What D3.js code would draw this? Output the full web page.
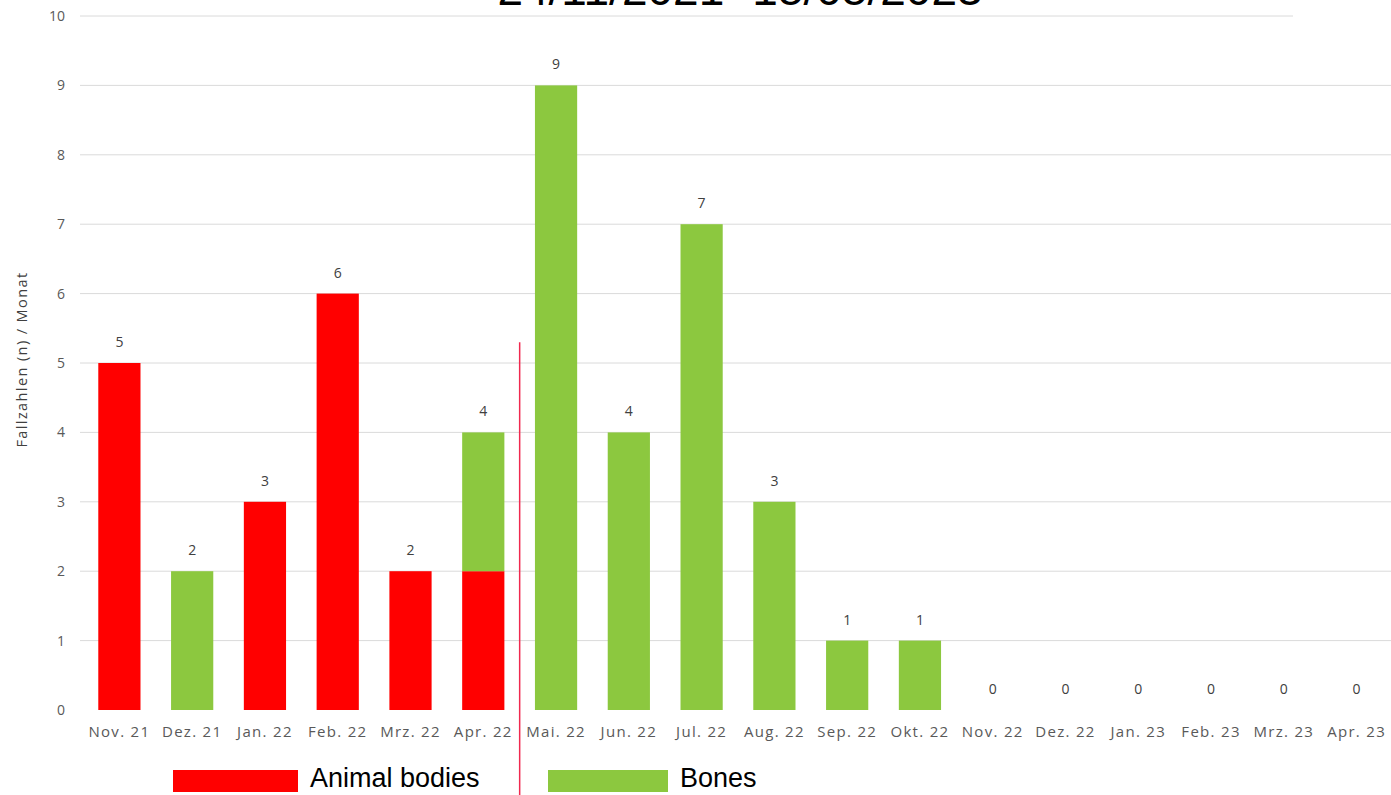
<!DOCTYPE html>
<html>
<head>
<meta charset="utf-8">
<script src="https://cdn.jsdelivr.net/npm/d3@7"></script>
<style>
  body { margin: 0; background: #fff; }
  svg { display: block; }
  .tick text { fill: #595959; }
</style>
</head>
<body>
<div id="chart"></div>
<script>
var months = ["Nov. 21", "Dez. 21", "Jan. 22", "Feb. 22", "Mrz. 22", "Apr. 22", "Mai. 22", "Jun. 22",
  "Jul. 22", "Aug. 22", "Sep. 22", "Okt. 22", "Nov. 22", "Dez. 22", "Jan. 23", "Feb. 23", "Mrz. 23", "Apr. 23"];
var animalBodies = [5, 0, 3, 6, 2, 2, 0, 0, 0, 0, 0, 0, 0, 0, 0, 0, 0, 0];
var bones =        [0, 2, 0, 0, 0, 2, 9, 4, 7, 3, 1, 1, 0, 0, 0, 0, 0, 0];
var yTicks = [0, 1, 2, 3, 4, 5, 6, 7, 8, 9, 10];
var title = "24/11/2021- 15/05/2023";
var seriesNames = ["Animal bodies", "Bones"];
var colors = ["#ff0000", "#8cc83f"];

var W = 1391, H = 795;
var margin = {top: 16, right: -2, bottom: 85, left: 83};
var width = W - margin.left - margin.right;
var height = H - margin.top - margin.bottom;

var svg = d3.select("#chart").append("svg")
    .attr("width", W)
    .attr("height", H);

var g = svg.append("g")
    .attr("transform", "translate(" + margin.left + "," + margin.top + ")");

var x = d3.scaleBand().domain(months).range([0, width]).paddingInner(0.42).paddingOuter(0.21);
var y = d3.scaleLinear().domain([0, 10]).range([height, 0]);

// gridlines
g.selectAll(".grid")
    .data(yTicks.filter(function(d) { return d > 0; }))
    .enter().append("line")
    .attr("x1", -3)
    .attr("x2", function(d) { return d === 10 ? width - 100 : width; })
    .attr("y1", function(d) { return y(d); })
    .attr("y2", function(d) { return y(d); })
    .attr("stroke", "#dadada")
    .attr("stroke-width", 1);

// y axis
var yAxis = g.append("g")
    .call(d3.axisLeft(y).tickValues(yTicks).tickSize(0).tickPadding(18));
yAxis.select(".domain").remove();
yAxis.selectAll("text").style("font-family", "Open Sans, sans-serif").style("font-size", "14px");

// x axis
var xAxis = g.append("g")
    .attr("transform", "translate(0," + height + ")")
    .call(d3.axisBottom(x).tickSize(0).tickPadding(16));
xAxis.select(".domain").remove();
xAxis.selectAll("text")
    .style("font-family", "Open Sans, sans-serif")
    .style("font-size", "15px")
    .style("letter-spacing", "1.3px");

// stacked data
var rows = months.map(function(m, i) { return {month: m, a: animalBodies[i], b: bones[i]}; });
var stack = d3.stack().keys(["a", "b"])(rows);

g.selectAll(".series")
    .data(stack)
    .enter().append("g")
    .attr("fill", function(d, i) { return colors[i]; })
    .selectAll("rect")
    .data(function(d) { return d; })
    .enter().append("rect")
    .attr("x", function(d) { return x(d.data.month); })
    .attr("width", x.bandwidth())
    .attr("y", function(d) { return y(d[1]); })
    .attr("height", function(d) { return y(d[0]) - y(d[1]); });

// value labels
g.selectAll(".lbl")
    .data(rows)
    .enter().append("text")
    .attr("x", function(d) { return x(d.month) + x.bandwidth() / 2; })
    .attr("y", function(d) { return y(d.a + d.b) - 16; })
    .attr("text-anchor", "middle")
    .style("font-family", "Open Sans, sans-serif")
    .style("font-size", "14px")
    .attr("fill", "#404040")
    .text(function(d) { return d.a + d.b; });

// y axis title
svg.append("text")
    .attr("transform", "translate(27," + (margin.top + y(5.05)) + ") rotate(-90)")
    .attr("text-anchor", "middle")
    .style("font-family", "Open Sans, sans-serif")
    .style("font-size", "14.5px")
    .style("letter-spacing", "1.4px")
    .attr("fill", "#404040")
    .text("Fallzahlen (n)  / Monat");

// divider between Apr. 22 and Mai. 22
var divX = margin.left + (x("Apr. 22") + x.bandwidth() + x("Mai. 22")) / 2;
svg.append("line")
    .attr("x1", divX).attr("x2", divX)
    .attr("y1", margin.top + y(5.3)).attr("y2", H)
    .attr("stroke", "#f0294f")
    .attr("stroke-width", 1.5);

// title (cut at top, as in the source image)
svg.append("text")
    .attr("x", 740)
    .attr("y", 5)
    .attr("text-anchor", "middle")
    .style("font-family", "Liberation Sans, Arial, sans-serif")
    .style("font-size", "46px")
    .attr("fill", "#000")
    .text(title);

// legend
var legendX = [173, 548];
var leg = svg.selectAll(".leg")
    .data(seriesNames)
    .enter().append("g")
    .attr("transform", function(d, i) { return "translate(" + legendX[i] + ",770)"; });
leg.append("rect")
    .attr("width", function(d, i) { return i === 0 ? 125 : 120; })
    .attr("height", 22)
    .attr("fill", function(d, i) { return colors[i]; });
leg.append("text")
    .attr("x", function(d, i) { return i === 0 ? 137 : 132; })
    .attr("y", 17)
    .style("font-family", "Liberation Sans, Arial, sans-serif")
    .style("font-size", "27px")
    .attr("fill", "#000")
    .text(function(d) { return d; });
</script>
</body>
</html>
